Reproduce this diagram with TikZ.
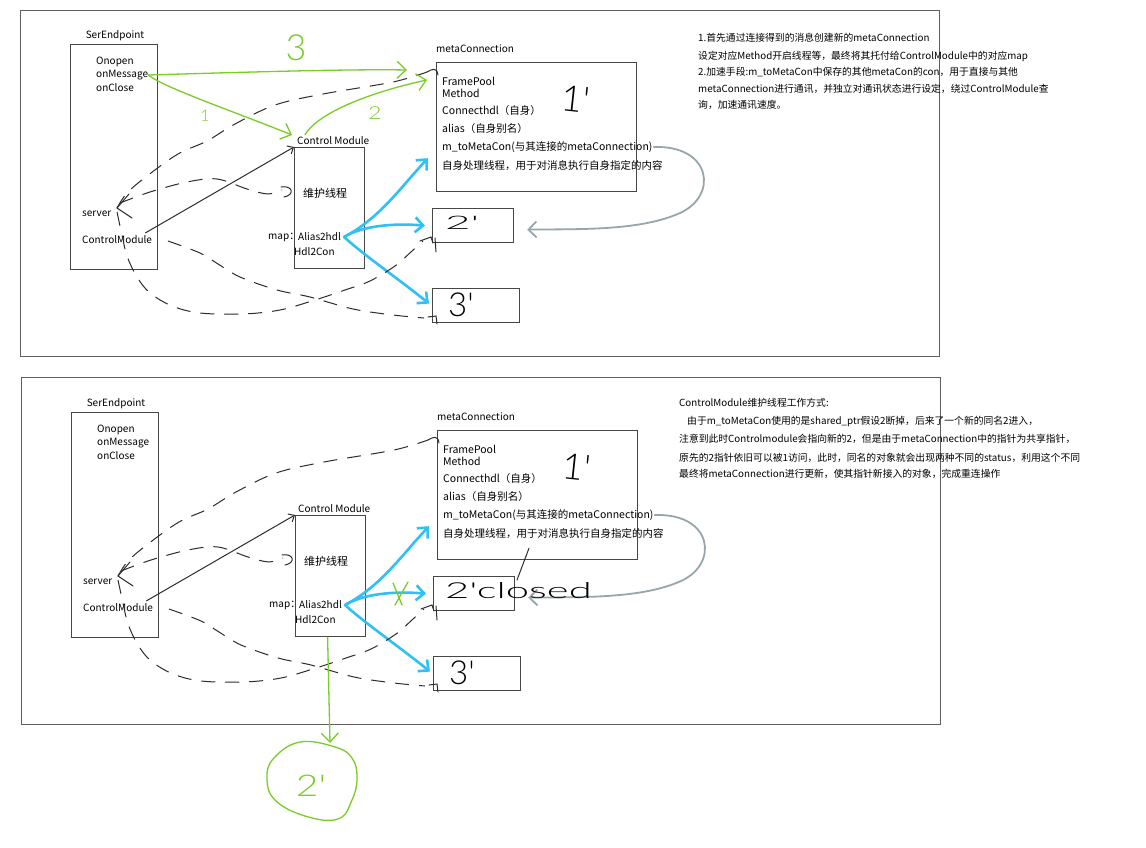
\documentclass[tikz,border=0pt]{standalone}
\usepackage{graphicx}
\usepackage{fontspec}
\setmainfont{Noto Sans CJK SC}
\newfontfamily\handfont{Lato Light}
\usetikzlibrary{arrows.meta,calc}

\definecolor{framegray}{RGB}{95,95,95}
\definecolor{boxgray}{RGB}{70,70,70}
\definecolor{inkblue}{RGB}{48,192,246}
\definecolor{inkgreen}{RGB}{122,204,38}
\definecolor{inkgrey}{RGB}{152,166,172}
\definecolor{inkdark}{RGB}{45,45,45}

\tikzset{
  panelframe/.style={draw=framegray, line width=1pt, rectangle, inner sep=0pt, anchor=north west},
  umlbox/.style={draw=boxgray, line width=1.2pt, rectangle, inner sep=0pt, anchor=north west},
  lbl/.style={anchor=west, inner sep=0pt, font=\fontsize{10}{12}\selectfont},
  mtxt/.style={anchor=west, inner sep=0pt, font=\fontsize{10.5}{12}\selectfont},
  note/.style={anchor=west, inner sep=0pt, font=\fontsize{9.8}{12}\selectfont},
  hand/.style={inner sep=0pt, font=\handfont\fontsize{#1}{#1}\selectfont},
  dashlink/.style={draw=inkdark, line width=1pt, dash pattern=on 14pt off 10pt},
  hookline/.style={draw=inkdark, line width=1pt, line cap=round},
  thinlink/.style={draw=inkdark, line width=1pt, -{Straight Barb[length=5pt,width=9pt]}},
  bluelink/.style={draw=inkblue, line width=2.6pt, line cap=round, line join=round,
                   -{Straight Barb[length=8pt,width=15pt]}},
  greylink/.style={draw=inkgrey, line width=1.8pt, line cap=round,
                   -{Straight Barb[length=8pt,width=16pt]}},
  greenlink/.style={draw=inkgreen, line width=1.3pt, line cap=round,
                   -{Straight Barb[length=9pt,width=17pt]}},
  greenmark/.style={draw=inkgreen, line width=1.3pt, line cap=round},
}

% One panel: endpoint, control module, metaConnection and the two peer boxes
\newcommand\drawpanel[1]{%
  \node[umlbox, minimum width=87pt, minimum height=225pt] (ser#1) at (70,44) {};
  \node[lbl, anchor=center] (serT#1) at (115,36) {SerEndpoint};
  \node[lbl] (onopen#1) at (96,62) {Onopen};
  \node[lbl] (onmsg#1) at (96,75) {onMessage};
  \node[lbl] (onclose#1) at (96,88) {onClose};
  \node[lbl] (server#1) at (82,214) {server};
  \node[lbl] (cmod#1) at (82,240) {ControlModule};
  \node[umlbox, minimum width=70pt, minimum height=121pt] (ctl#1) at (294,147) {};
  \node[lbl] (ctlT#1) at (297,141) {Control Module};
  \node[lbl, anchor=center, font=\fontsize{11}{13}\selectfont] (thr#1) at (325,193) {维护线程};
  \node[lbl] (map#1) at (268,237) {map：};
  \node[lbl] (a2h#1) at (298,237) {Alias2hdl};
  \node[lbl] (h2c#1) at (294,252) {Hdl2Con};
  \node[umlbox, minimum width=200pt, minimum height=129pt] (meta#1) at (436,62) {};
  \node[lbl] (metaT#1) at (436,49) {metaConnection};
  \node[mtxt] (fp#1) at (442,81) {FramePool};
  \node[mtxt] (me#1) at (442,93.5) {Method};
  \node[mtxt] (ch#1) at (442,111) {Connecthdl（自身）};
  \node[mtxt] (al#1) at (442,128.5) {alias（自身别名）};
  \node[mtxt] (tm#1) at (442,147) {m\_toMetaCon(与其连接的metaConnection)};
  \node[mtxt] (sp#1) at (442,166) {自身处理线程，用于对消息执行自身指定的内容};
  \node[hand=36, rotate=-6] (oneT#1) at (576,99) {1'};
  \node[umlbox, minimum width=81pt, minimum height=34pt] (two#1) at (432,208) {};
  \node[umlbox, minimum width=87pt, minimum height=34pt] (three#1) at (432,288) {};
  \node[hand=33] (threeT#1) at (461,305) {3'};
  % map entries pointing at the connections
  \coordinate (src#1) at ($(a2h#1.east)+(3,0)$);
  \draw[bluelink] (src#1) .. controls (380,218) and (400,188) .. ($(meta#1.south west)+(-8,-34)$);
  \draw[bluelink] (src#1) .. controls (362,226) and (392,223) .. ($(two#1.west)+(-7,0)$);
  \draw[bluelink] (src#1) .. controls (365,256) and (400,280) .. ($(three#1.west)+(-3,-2)$);
  % m_toMetaCon reference back to the peer
  \draw[greylink] ($(tm#1.east)+(1,0)$) .. controls (712,145) and (718,196) .. (680,213)
        .. controls (640,231) and (580,229) .. ($(two#1.east)+(13,4)$);
  % ControlModule handle into the control module
  \draw[thinlink] ($(cmod#1.east)+(-7,-7)$) -- (ctl#1.north west);
  % dashed relations around the server
  \coordinate (srv#1) at (117,208);
  \draw[dashlink] plot[smooth, tension=0.55] coordinates {(117,208) (127,193) (147,176) (178,154)
        (207,141) (235,124) (275,105) (323,94) (393,82) (427,72)};
  \draw[hookline] (427,72) .. controls (432,69) and (437,67) .. (438,75);
  \draw[dashlink] plot[smooth, tension=0.55] coordinates {(120,203) (150,192) (187,182) (217,179)
        (247,189) (268,194) (282,190)};
  \draw[hookline] (281,187) .. controls (293,185) and (295,195) .. (284,197);
  \draw[hookline] (129,194) -- (srv#1) -- (132,218);
  \draw[dashlink] plot[smooth, tension=0.55] coordinates {(117,212) (122,235) (127,256) (137,277)
        (150,293) (172,306) (200,313) (243,314) (280,310) (315,300) (345,290) (370,281)
        (395,266) (412,251) (423,241)};
  \draw[hookline] (420,241) -- (431,237) -- (433,243);
  \draw[hookline] (435,238) -- (436,252);
  \draw[dashlink] plot[smooth, tension=0.55] coordinates {(168,241) (200,253) (218,264) (240,277)
        (277,290) (310,297) (353,309) (393,315) (424,318)};
  \draw[hookline] (428,317) -- (436,316) -- (437,324);
}

\begin{document}
\begin{tikzpicture}[x=1pt,y=-1pt]
\fill[white] (0,0) rectangle (1146,848);
\useasboundingbox (0,0) rectangle (1146,848);

% ---------- first panel ----------
\node[panelframe, minimum width=919pt, minimum height=346pt] (frameA) at (20,10) {};
\drawpanel{A}
\node[hand=22, anchor=west] (twoTA) at (445,223) {\scalebox{2.0}[0.85]{2'}};

% message flow 1, 2, 3
\draw[greenlink] (onmsgA.east) .. controls (250,72) and (350,69) .. ($(metaA.north west)+(-29,8)$);
\draw[greenlink] (onmsgA.east) .. controls (165,88) and (230,110) .. ($(ctlA.north west)+(-2,-12)$);
\draw[greenlink] ($(ctlTA.north west)+(8,-2)$) .. controls (320,110) and (380,90) .. ($(metaA.north west)+(-9,18)$);
\node[hand=36, text=inkgreen] (lbl3) at (296,48) {3};
\node[hand=16, text=inkgreen] (lbl1) at (205,116) {1};
\node[hand=18, text=inkgreen] (lbl2) at (375,113) {\scalebox{1.3}[1]{2}};

\node[note] (nA1) at (698,37.7) {1.首先通过连接得到的消息创建新的metaConnection};
\node[note] (nA2) at (698,56) {设定对应Method开启线程等，最终将其托付给ControlModule中的对应map};
\node[note] (nA3) at (698,72) {2.加速手段:m\_toMetaCon中保存的其他metaCon的con，用于直接与其他};
\node[note] (nA4) at (698,88.5) {metaConnection进行通讯，并独立对通讯状态进行设定，绕过ControlModule查};
\node[note] (nA5) at (698,104.5) {询，加速通讯速度。};

% ---------- second panel ----------
\node[panelframe, minimum width=919pt, minimum height=347pt] (frameB) at (21,377) {};
\begin{scope}[shift={(1,368)}]
\drawpanel{B}
\end{scope}
\node[hand=22, anchor=west] (twoTB) at (445,591) {\scalebox{1.9}[1]{2'closed}};
\draw[hookline] ($(metaB.south west)+(92,-12)$) -- (517,580);
\draw[greenmark] (393,583) -- (402,605) (408,582) -- (395,605);

% the dropped peer leaves the control module
\draw[greenlink] ($(ctlB.south)+(-3,0)$) -- (330,743);
\draw[greenmark] plot[smooth cycle, tension=0.7] coordinates {(300,742) (335,747) (352,758)
      (357,778) (352,800) (338,819) (305,816) (275,800) (267,778) (274,758)};
\node[hand=30, text=inkgreen] (dropT) at (311,786) {\scalebox{1.3}[1]{2'}};

\node[note] (nB1) at (679,403) {ControlModule维护线程工作方式:};
\node[note] (nB2) at (679,421) {\hspace*{8pt}由于m\_toMetaCon使用的是shared\_ptr假设2断掉，后来了一个新的同名2进入，};
\node[note] (nB3) at (679,439) {注意到此时Controlmodule会指向新的2，但是由于metaConnection中的指针为共享指针，};
\node[note] (nB4) at (679,457.5) {原先的2指针依旧可以被1访问，此时，同名的对象就会出现两种不同的status，利用这个不同};
\node[note] (nB5) at (679,473.5) {最终将metaConnection进行更新，使其指针新接入的对象，完成重连操作};
\end{tikzpicture}
\end{document}
